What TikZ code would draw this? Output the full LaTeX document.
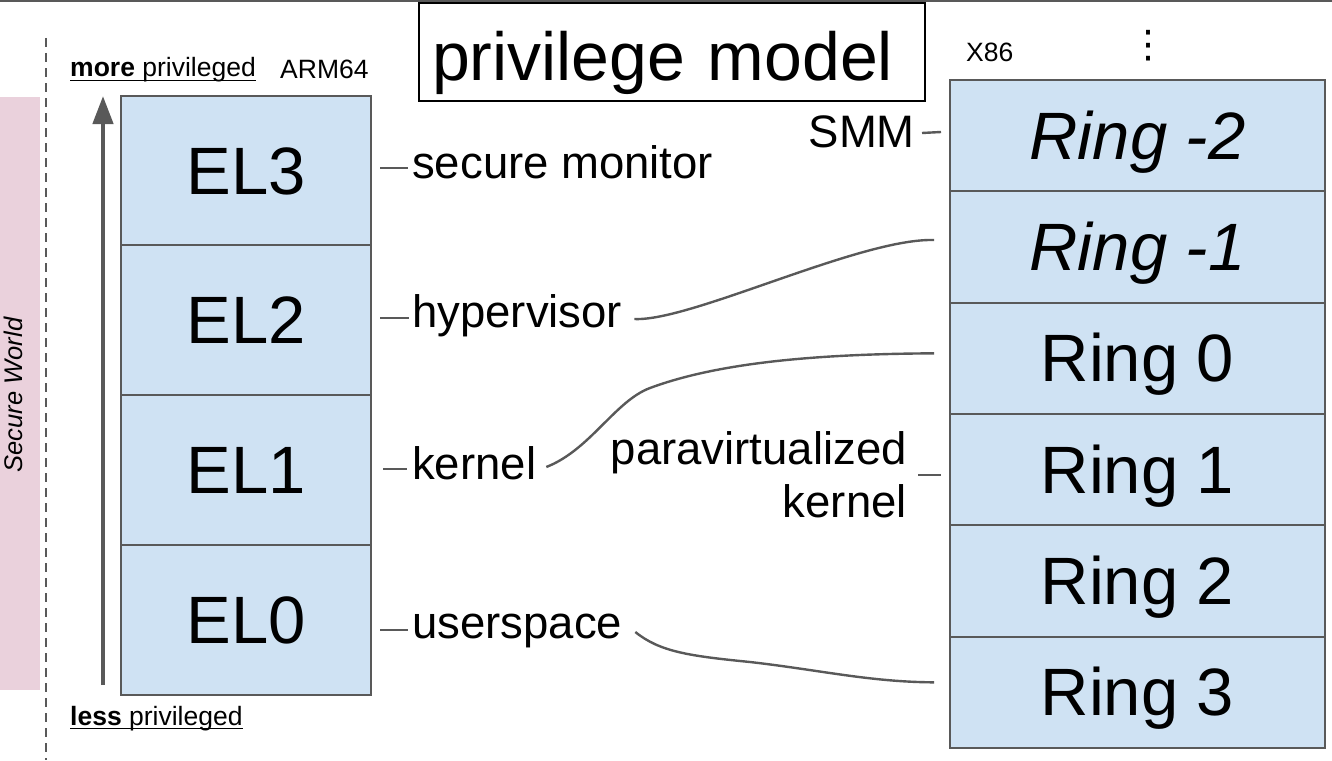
\documentclass[tikz,border=0pt]{standalone}
\usepackage{fontspec}
\setmainfont{Liberation Sans}
\newfontfamily\djv{DejaVu Sans}
\usetikzlibrary{arrows.meta}
\definecolor{boxfill}{HTML}{CFE2F3}
\definecolor{linegray}{HTML}{595959}
\definecolor{pinkbar}{HTML}{EAD1DC}
\begin{document}
\begin{tikzpicture}[x=1pt,y=-1pt,
  elbox/.style={draw=linegray, line width=2pt, fill=boxfill, minimum width=250pt, minimum height=150pt, inner sep=0pt, text height=47pt, text depth=0pt, font=\fontsize{67}{70}\selectfont},
  ringbox/.style={draw=linegray, line width=2pt, fill=boxfill, minimum width=375pt, minimum height=111.33pt, inner sep=0pt, text height=47pt, text depth=0pt, font=\fontsize{67}{70}\selectfont},
  lbl/.style={inner sep=0pt, font=\fontsize{45.5}{53}\selectfont},
  small/.style={inner sep=0pt, font=\fontsize{26.5}{30}\selectfont},
  conn/.style={draw=linegray, line width=2.4pt},
  uline/.style={draw=black, line width=1.6pt},
]
\useasboundingbox (0,0) rectangle (1332,760);
% top border
\draw[linegray, line width=2pt] (0,1) -- (1332,1);
% secure world bar
\fill[pinkbar] (0,97) rectangle (40,690);
\node[inner sep=0pt, rotate=90, font=\fontsize{25.5}{30}\selectfont\itshape] (secw) at (13,395) {Secure World};
\draw[linegray, line width=2pt, dash pattern=on 9pt off 6pt] (46,38) -- (46,760);
% privilege arrow
\draw[linegray, line width=4.5pt, -{Triangle[width=20pt,length=28pt]}] (103,685) -- (103,96);
% labels
\node[small, anchor=base west] (more) at (70,77) {\textbf{more} privileged};
\draw[uline] ([yshift=-3.5pt]more.base west) -- ([yshift=-3.5pt]more.base east);
\node[small, anchor=base west] (arm) at (280,78) {ARM64};
\node[small, anchor=base west] (less) at (70,725) {\textbf{less} privileged};
\draw[uline] ([yshift=-3.5pt]less.base west) -- ([yshift=-3.5pt]less.base east);
\node[small, anchor=base west] (x86) at (966,61) {X86};
\node[inner sep=0pt, font=\djv\fontsize{38}{38}\selectfont] (dots) at (1148,46) {⋮};
% title
\node[draw=black, line width=1.5pt, minimum width=506pt, minimum height=98pt, inner xsep=13pt, text width=480pt, align=left, text height=58pt, text depth=0pt, font=\fontsize{68}{70}\selectfont] (title) at (672,52) {privilege model};
% ARM boxes
\node[elbox] (el3) at (246,170.5) {EL3};
\node[elbox] (el2) at (246,320) {EL2};
\node[elbox] (el1) at (246,470) {EL1};
\node[elbox] (el0) at (246,620) {EL0};
% x86 boxes
\node[ringbox, font=\fontsize{67}{70}\selectfont\itshape] (rm2) at (1137.5,135.67) {Ring -2};
\node[ringbox, font=\fontsize{67}{70}\selectfont\itshape] (rm1) at (1137.5,247) {Ring -1};
\node[ringbox] (r0) at (1137.5,358.33) {Ring 0};
\node[ringbox] (r1) at (1137.5,469.67) {Ring 1};
\node[ringbox] (r2) at (1137.5,581) {Ring 2};
\node[ringbox] (r3) at (1137.5,692.33) {Ring 3};
% ARM role labels
\node[lbl, anchor=base west] (secmon) at (412,178) {secure monitor};
\node[lbl, anchor=base west] (hyper) at (412,327) {hypervisor};
\node[lbl, anchor=base west] (kern) at (412,479) {kernel};
\node[lbl, anchor=base west] (user) at (412,638) {userspace};
\draw[conn] ([xshift=-32pt,yshift=10pt]secmon.base west) -- ([xshift=-4pt,yshift=10pt]secmon.base west);
\draw[conn] ([xshift=-32pt,yshift=9pt]hyper.base west) -- ([xshift=-3pt,yshift=9pt]hyper.base west);
\draw[conn] ([xshift=-29pt,yshift=10pt]kern.base west) -- ([xshift=-5pt,yshift=10pt]kern.base west);
\draw[conn] ([xshift=-32pt,yshift=8pt]user.base west) -- ([xshift=-4pt,yshift=8pt]user.base west);
% x86 role labels
\node[lbl, anchor=base east] (smm) at (915,147) {SMM};
\draw[conn] ([xshift=7pt,yshift=14pt]smm.base east) -- ([xshift=-8pt,yshift=15pt]rm2.west |- smm.base east);
\node[lbl, anchor=east, align=right] (para) at (907,475) {paravirtualized\\kernel};
\draw[conn] ([xshift=11pt]para.east) -- ([xshift=-8pt]r1.west |- para.east);
% cross connectors
\draw[conn] ([xshift=12pt,yshift=8pt]hyper.base east) .. controls (690,322) and (860,238) .. ([xshift=-15pt,yshift=7pt]rm1.west);
\draw[conn] ([xshift=10pt,yshift=12pt]kern.base east) .. controls (590,450) and (615,401) .. (650,388) .. controls (720,362) and (820,354) .. ([xshift=-15pt,yshift=5pt]r0.west);
\draw[conn] ([xshift=13pt,yshift=6pt]user.base east) .. controls (660,652) and (690,656) .. (750,662) .. controls (820,670) and (870,682) .. ([xshift=-15pt,yshift=10pt]r3.west);
\end{tikzpicture}
\end{document}
